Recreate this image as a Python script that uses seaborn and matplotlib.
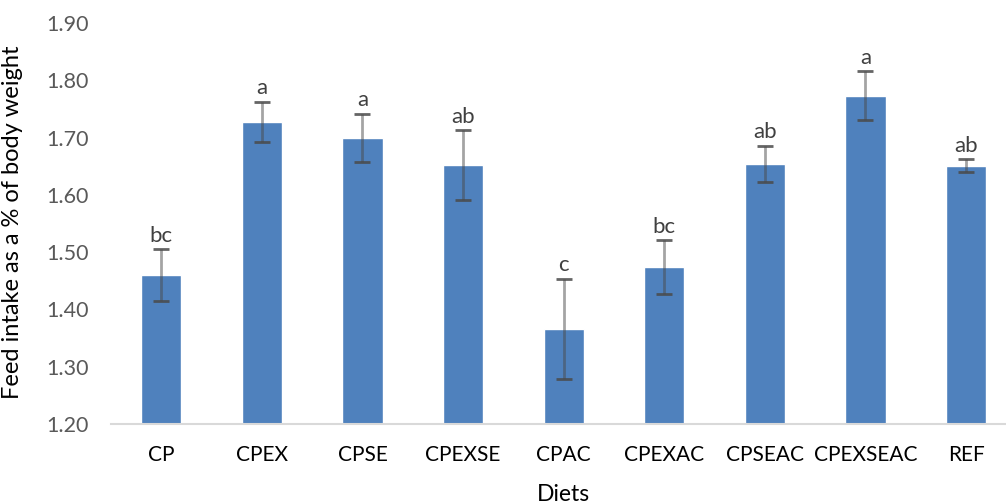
import matplotlib
matplotlib.use("Agg")
import matplotlib.pyplot as plt
import seaborn as sns
import pandas as pd

# Feed intake by diet (mean, standard error, significance letters)
diets = ["CP", "CPEX", "CPSE", "CPEXSE", "CPAC", "CPEXAC", "CPSEAC", "CPEXSEAC", "REF"]
intake = [1.46, 1.728, 1.700, 1.652, 1.366, 1.474, 1.654, 1.773, 1.651]
sem = [0.045, 0.035, 0.042, 0.061, 0.088, 0.047, 0.032, 0.043, 0.011]
letters = ["bc", "a", "a", "ab", "c", "bc", "ab", "a", "ab"]

y_ticks = [1.20, 1.30, 1.40, 1.50, 1.60, 1.70, 1.80, 1.90]

sns.set_theme(style="white")
plt.rcParams["font.family"] = ["Lato", "DejaVu Sans"]

df = pd.DataFrame({"Diet": diets, "Intake": intake})

fig = plt.figure(figsize=(10.06, 5.04), dpi=100)
ax = fig.add_axes([0.1103, 0.1587, 0.9, 0.7956])

sns.barplot(data=df, x="Diet", y="Intake", color="#4F81BD", saturation=1,
            width=0.4, errorbar=None, ax=ax)

xs = [p.get_x() + p.get_width() / 2 for p in ax.patches]
_, caps, bars = ax.errorbar(xs, intake, yerr=sem, fmt="none", ecolor="#4A4A4A",
                            elinewidth=2.0, capsize=5.5, capthick=2.0, zorder=3)
for b in bars:
    b.set_alpha(0.5)
for c in caps:
    c.set_alpha(0.85)

for x, v, e, lab in zip(xs, intake, sem, letters):
    ax.text(x, v + e + 0.006, lab, ha="center", va="bottom",
            fontsize=16, color="#404040")

ax.set_ylim(1.20, 1.90)
ax.set_xlim(-0.5, 8.5)
ax.set_yticks(y_ticks)
ax.set_yticklabels([f"{t:.2f}" for t in y_ticks], fontsize=15.5, color="#595959")
ax.tick_params(axis="y", length=0, pad=16)
ax.tick_params(axis="x", length=0, pad=15, labelsize=15, labelcolor="black")

ax.set_xlabel("Diets", fontsize=16.5, color="black", labelpad=14)
ax.set_ylabel("Feed intake as a % of body weight", fontsize=17, color="black")
ax.yaxis.set_label_coords(-0.097, 0.5025)

for side in ["top", "right", "left"]:
    ax.spines[side].set_visible(False)
ax.spines["bottom"].set_color("#D9D9D9")
ax.spines["bottom"].set_linewidth(1.5)
ax.grid(False)

fig.savefig("out.png", dpi=100)
